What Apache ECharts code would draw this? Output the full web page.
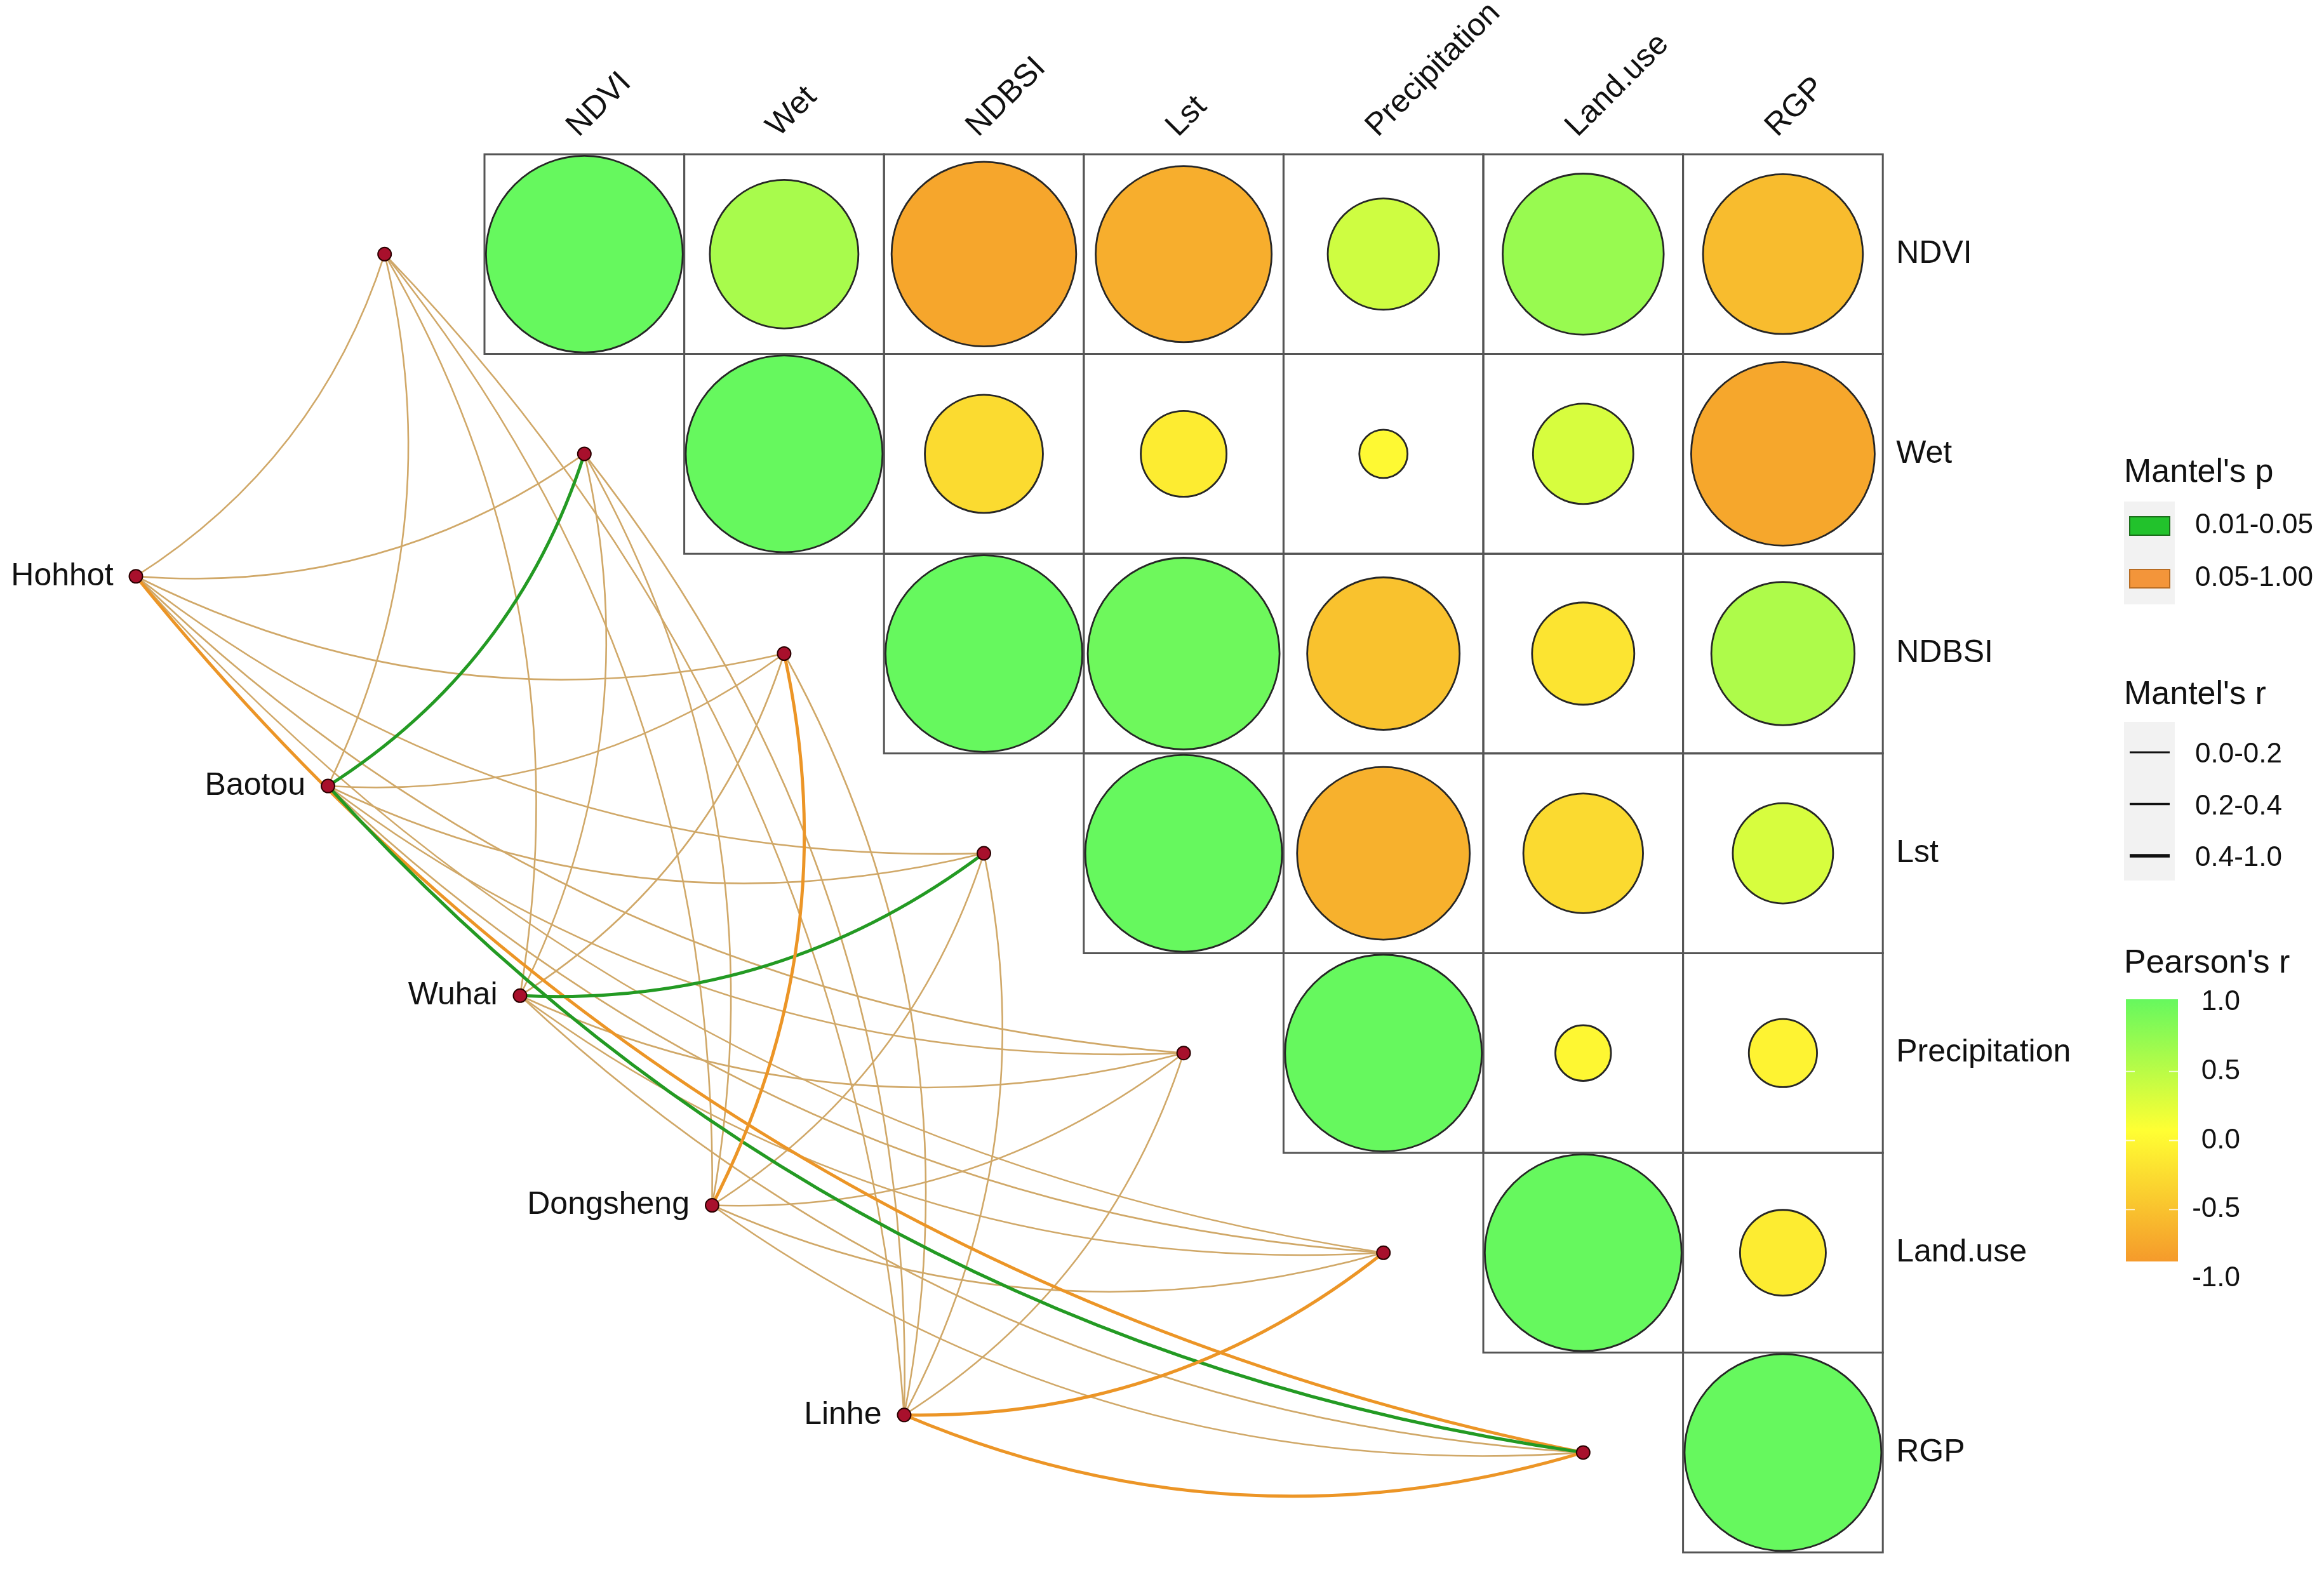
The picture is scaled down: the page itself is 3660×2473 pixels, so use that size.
<!DOCTYPE html>
<html>
<head>
<meta charset="utf-8">
<script src="https://cdn.jsdelivr.net/npm/echarts@6/dist/echarts.min.js"></script>
<style>
html,body{margin:0;padding:0;background:#ffffff;}
#chart{width:3660px;height:2473px;}
</style>
</head>
<body>
<div id="chart"></div>
<script>
// ---------------- DATA ----------------
const variables = ['NDVI', 'Wet', 'NDBSI', 'Lst', 'Precipitation', 'Land.use', 'RGP'];
const cities = ['Hohhot', 'Baotou', 'Wuhai', 'Dongsheng', 'Linhe'];

// Pearson's r, upper triangle, each row starts at its diagonal cell
const pearsonNDVI = [1.00, 0.57, -0.88, -0.80, 0.32, 0.67, -0.66];
const pearsonWet = [1.00, -0.36, -0.19, -0.06, 0.26, -0.87];
const pearsonNDBSI = [1.00, 0.95, -0.60, -0.27, 0.53];
const pearsonLst = [1.00, -0.77, -0.37, 0.26];
const pearsonPrecipitation = [1.00, -0.08, -0.12];
const pearsonLandUse = [1.00, -0.19];
const pearsonRGP = [1.00];

// Mantel's r (one value per variable, order as `variables`)
const mantelR_Hohhot    = [0.12, 0.15, 0.10, 0.13, 0.16, 0.11, 0.45];
const mantelR_Baotou    = [0.14, 0.44, 0.12, 0.10, 0.15, 0.13, 0.48];
const mantelR_Wuhai     = [0.11, 0.13, 0.16, 0.42, 0.12, 0.14, 0.15];
const mantelR_Dongsheng = [0.10, 0.12, 0.43, 0.14, 0.11, 0.15, 0.13];
const mantelR_Linhe     = [0.13, 0.11, 0.12, 0.10, 0.14, 0.44, 0.46];
// Mantel's p
const mantelP_Hohhot    = [0.42, 0.36, 0.51, 0.28, 0.33, 0.47, 0.12];
const mantelP_Baotou    = [0.39, 0.03, 0.45, 0.55, 0.31, 0.29, 0.02];
const mantelP_Wuhai     = [0.48, 0.41, 0.26, 0.04, 0.37, 0.22, 0.18];
const mantelP_Dongsheng = [0.52, 0.44, 0.09, 0.35, 0.46, 0.27, 0.24];
const mantelP_Linhe     = [0.38, 0.49, 0.32, 0.58, 0.21, 0.08, 0.07];

// legend labels
const mantelPBins = ['0.01-0.05', '0.05-1.00'];
const mantelRBins = ['0.0-0.2', '0.2-0.4', '0.4-1.0'];
const pearsonTicks = ['1.0', '0.5', '0.0', '-0.5', '-1.0'];

// ---------------- LAYOUT / STYLE ----------------
const W = 3660, H = 2473;
const MATRIX_LEFT = 763, MATRIX_TOP = 243, CELL = 314.6;
const XMIN = -0.5 - MATRIX_LEFT / CELL, XMAX = XMIN + W / CELL;
const YMIN = -0.5 - MATRIX_TOP / CELL, YMAX = YMIN + H / CELL;
const CITY_START = [-2.245, 1.613], CITY_STEP = [0.9615, 1.0498];
const CURVE = -0.18;
const FONT = '"Liberation Sans", Arial, Helvetica, sans-serif';
const TEXT = '#111111';
const C_ORANGE = '#F59A2B', C_YELLOW = '#FFFF33', C_GREEN = '#66F85E';

const anchorPos = i => [i - 1, i];
const cityPos = k => [CITY_START[0] + k * CITY_STEP[0], CITY_START[1] + k * CITY_STEP[1]];

const pearsonRows = [pearsonNDVI, pearsonWet, pearsonNDBSI, pearsonLst, pearsonPrecipitation, pearsonLandUse, pearsonRGP];
const mantelR = [mantelR_Hohhot, mantelR_Baotou, mantelR_Wuhai, mantelR_Dongsheng, mantelR_Linhe];
const mantelP = [mantelP_Hohhot, mantelP_Baotou, mantelP_Wuhai, mantelP_Dongsheng, mantelP_Linhe];

const cellData = [], circleData = [];
pearsonRows.forEach((row, i) => row.forEach((r, k) => {
  cellData.push([i + k, i]);
  circleData.push([i + k, i, r]);
}));

function edgeWidth(r) { return r < 0.2 ? 2.6 : (r < 0.4 ? 3.4 : 5); }
function edgeColor(p, r) {
  if (p < 0.05) return '#239A23';
  return r < 0.2 ? '#D0A868' : (r < 0.4 ? '#DA9E4C' : '#EC9526');
}
const edges = [];
cities.forEach((c, k) => variables.forEach((v, i) => {
  edges.push({ r: mantelR[k][i], p: mantelP[k][i], coords: [cityPos(k), anchorPos(i)] });
}));
edges.sort((a, b) => edgeWidth(a.r) - edgeWidth(b.r));
const lineData = edges.map(e => ({
  coords: e.coords,
  lineStyle: { color: edgeColor(e.p, e.r), width: edgeWidth(e.r), curveness: CURVE, opacity: 1 }
}));

const nodeData = variables.map((v, i) => ({ value: anchorPos(i), name: v, label: { show: false } }))
  .concat(cities.map((c, k) => ({ value: cityPos(k), name: c })));

// ---------------- CHART ----------------
const chart = echarts.init(document.getElementById('chart'), null, { width: W, height: H, renderer: 'canvas' });

function txt(x, y, s, size, align, valign, rotation) {
  const el = {
    type: 'text', x: x, y: y, silent: true, z: 100,
    style: {
      text: s, fontSize: size, fontFamily: FONT, fill: TEXT,
      textAlign: align || 'left', textVerticalAlign: valign || 'middle',
      align: align || 'left', verticalAlign: valign || 'middle'
    }
  };
  if (rotation) el.rotation = rotation;
  return el;
}

const legendEls = [];
// Mantel's p
legendEls.push(txt(3345, 745, "Mantel's p", 52));
legendEls.push({ type: 'rect', silent: true, z: 90, shape: { x: 3345, y: 790, width: 80, height: 162 }, style: { fill: '#F2F2F2' } });
const pSwatch = [{ fill: '#22C22C', stroke: '#1B6E1B' }, { fill: '#F3953A', stroke: '#B86C22' }];
mantelPBins.forEach((lab, k) => {
  const cy = 828 + k * 83;
  legendEls.push({ type: 'rect', silent: true, z: 95, shape: { x: 3354, y: cy - 14, width: 63, height: 29 }, style: { fill: pSwatch[k].fill, stroke: pSwatch[k].stroke, lineWidth: 2 } });
  legendEls.push(txt(3457, cy, lab, 44));
});
// Mantel's r
legendEls.push(txt(3345, 1095, "Mantel's r", 52));
legendEls.push({ type: 'rect', silent: true, z: 90, shape: { x: 3345, y: 1137, width: 80, height: 250 }, style: { fill: '#F2F2F2' } });
const rLegendWidths = [3, 3.5, 5.5];
mantelRBins.forEach((lab, k) => {
  const cy = 1185 + k * 81.5;
  legendEls.push({ type: 'line', silent: true, z: 95, shape: { x1: 3354, y1: cy, x2: 3417, y2: cy }, style: { stroke: '#111', lineWidth: rLegendWidths[k] } });
  legendEls.push(txt(3457, cy + 4, lab, 44));
});
// Pearson's r colour bar
legendEls.push(txt(3345, 1518, "Pearson's r", 52));
legendEls.push({
  type: 'rect', silent: true, z: 95, shape: { x: 3348, y: 1574, width: 82, height: 413 },
  style: { fill: new echarts.graphic.LinearGradient(0, 0, 0, 1, [
    { offset: 0, color: C_GREEN }, { offset: 0.5, color: C_YELLOW }, { offset: 1, color: C_ORANGE }]) }
});
pearsonTicks.forEach((lab, k) => {
  const cy = 1579 + k * 108.75;
  legendEls.push(txt(3528, cy, lab, 44, 'right'));
  if (k > 0 && k < pearsonTicks.length - 1) {
    legendEls.push({ type: 'line', silent: true, z: 96, shape: { x1: 3348, y1: cy, x2: 3362, y2: cy }, style: { stroke: 'rgba(255,255,255,0.8)', lineWidth: 2 } });
    legendEls.push({ type: 'line', silent: true, z: 96, shape: { x1: 3416, y1: cy, x2: 3430, y2: cy }, style: { stroke: 'rgba(255,255,255,0.8)', lineWidth: 2 } });
  }
});

const option = {
  backgroundColor: '#ffffff',
  animation: false,
  grid: { left: 0, right: 0, top: 0, bottom: 0, containLabel: false },
  xAxis: { type: 'value', min: XMIN, max: XMAX, show: false },
  yAxis: { type: 'value', min: YMIN, max: YMAX, inverse: true, show: false },
  visualMap: {
    type: 'continuous', show: false, min: -1, max: 1, dimension: 2, seriesIndex: 1,
    inRange: { color: [C_ORANGE, C_YELLOW, C_GREEN] }
  },
  series: [
    {
      type: 'custom', name: 'cells', silent: true, z: 1, data: cellData,
      renderItem: function (params, api) {
        const c = api.coord([api.value(0), api.value(1)]);
        const s = api.size([1, 1]);
        const w = Math.abs(s[0]), h = Math.abs(s[1]);
        return { type: 'rect', shape: { x: c[0] - w / 2, y: c[1] - h / 2, width: w, height: h },
          style: { fill: 'none', stroke: '#555555', lineWidth: 3 } };
      }
    },
    {
      type: 'custom', name: 'pearson', silent: true, z: 2, data: circleData,
      renderItem: function (params, api) {
        const c = api.coord([api.value(0), api.value(1)]);
        const s = api.size([1, 1]);
        const rad = Math.abs(s[0]) / 2 * 0.985 * Math.sqrt(Math.abs(api.value(2)));
        return { type: 'circle', shape: { cx: c[0], cy: c[1], r: rad },
          style: { fill: api.visual('color'), stroke: '#262626', lineWidth: 2.8 } };
      }
    },
    {
      type: 'lines', name: 'mantel', coordinateSystem: 'cartesian2d', polyline: false, silent: true, z: 3,
      lineStyle: { curveness: CURVE, opacity: 1 },
      data: lineData
    },
    {
      type: 'scatter', name: 'nodes', silent: true, z: 4, data: nodeData,
      symbol: 'circle', symbolSize: 21,
      itemStyle: { color: '#A8102C', borderColor: '#2a0000', borderWidth: 2, opacity: 1 },
      label: { show: true, position: 'left', distance: 24, formatter: '{b}', fontSize: 50, fontFamily: FONT, color: TEXT }
    }
  ],
  graphic: legendEls
};
chart.setOption(option);

// column and row labels, placed through the grid's scales
const colLabelEls = variables.map((v, j) => {
  const p = chart.convertToPixel({ gridIndex: 0 }, [j, -0.5]);
  return txt(p[0] - 1, p[1] - 18, v, 50, 'left', 'bottom', Math.PI / 4);
});
const rowLabelEls = variables.map((v, i) => {
  const p = chart.convertToPixel({ gridIndex: 0 }, [6.5, i]);
  return txt(p[0] + 21, p[1], v, 50, 'left', 'middle');
});
chart.setOption({ graphic: legendEls.concat(colLabelEls, rowLabelEls) });
</script>
</body>
</html>
